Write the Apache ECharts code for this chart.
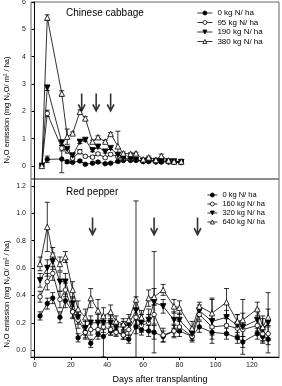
<!DOCTYPE html>
<html>
<head>
<meta charset="utf-8">
<script src="https://cdn.jsdelivr.net/npm/echarts@6/dist/echarts.min.js"></script>
<style>
  html, body { margin: 0; padding: 0; background: #fff; }
  #main { width: 282px; height: 386px; }
</style>
</head>
<body>
<div id="main"></div>
<script>
// Chinese cabbage (top panel)
const cabbageDays = [4, 7, 15, 18, 21, 25, 28, 32, 35, 39, 42, 46, 49, 53, 56, 60, 63, 67, 70, 74, 77, 81];
const cab0    = [0, 0.24, 0.25, 0.15, 0.13, 0.18, 0.06, 0.10, 0.14, 0.08, 0.10, 0.16, 0.20, 0.20, 0.20, 0.16, 0.16, 0.14, 0.14, 0.14, 0.13, 0.12];
const cab0Err = [0, 0.12, 0.50, 0.06, 0.04, 0.04, 0.03, 0.03, 0.04, 0.03, 0.03, 0.04, 0.03, 0.03, 0.03, 0.03, 0.03, 0.03, 0.03, 0.03, 0.03, 0.03];
const cab95    = [0, 1.92, 0.65, 0.55, 0.28, 0.52, 0.35, 0.32, 0.44, 0.30, 0.42, 0.34, 0.26, 0.24, 0.24, 0.16, 0.24, 0.16, 0.26, 0.16, 0.14, 0.14];
const cab95Err = [0, 0.12, 0.10, 0.08, 0.05, 0.08, 0.05, 0.05, 0.05, 0.04, 0.05, 0.05, 0.04, 0.03, 0.03, 0.03, 0.03, 0.03, 0.04, 0.03, 0.03, 0.03];
const cab190    = [0, 2.86, 0.85, 0.62, 0.38, 0.88, 0.95, 0.57, 0.70, 0.52, 0.65, 0.40, 0.28, 0.24, 0.22, 0.18, 0.20, 0.18, 0.16, 0.16, 0.16, 0.14];
const cab190Err = [0, 0.10, 0.10, 0.05, 0.05, 0.06, 0.05, 0.05, 0.05, 0.05, 0.05, 0.05, 0.04, 0.03, 0.03, 0.03, 0.03, 0.03, 0.03, 0.03, 0.03, 0.03];
const cab380    = [0, 5.43, 2.65, 1.07, 1.19, 1.98, 1.74, 0.89, 1.05, 0.89, 1.17, 0.72, 0.46, 0.44, 0.46, 0.24, 0.31, 0.22, 0.37, 0.20, 0.16, 0.16];
const cab380Err = [0, 0.10, 0.10, 0.28, 0.05, 0.07, 0.06, 0.05, 0.05, 0.05, 0.05, 0.55, 0.05, 0.04, 0.04, 0.04, 0.05, 0.04, 0.06, 0.03, 0.03, 0.03];
const cabArrowDays = [26, 34, 42];

// Red pepper (bottom panel)
const pepperDays = [3, 7, 10, 14, 17, 21, 24, 28, 31, 35, 38, 42, 45, 49, 52, 56, 59, 63, 66, 71, 77, 80, 87, 91, 98, 106, 112, 115, 123, 126, 129];
const pep0    = [0.25, 0.34, 0.38, 0.24, 0.36, 0.28, 0.09, 0.13, 0.05, 0.12, 0.10, 0.14, 0.14, 0.11, 0.08, 0.17, 0.15, 0.14, 0.13, 0.10, 0.14, 0.14, 0.10, 0.17, 0.13, 0.12, 0.09, 0.06, 0.12, 0.10, 0.08];
const pep0Err = [0.03, 0.04, 0.04, 0.04, 0.05, 0.04, 0.03, 0.04, 0.03, 0.04, 0.15, 0.03, 0.03, 0.03, 0.03, 0.05, 0.04, 0.04, 0.05, 0.04, 0.04, 0.04, 0.03, 0.04, 0.05, 0.04, 0.04, 0.04, 0.04, 0.04, 0.04];
const pep160    = [0.39, 0.50, 0.56, 0.37, 0.44, 0.28, 0.22, 0.13, 0.15, 0.15, 0.17, 0.15, 0.13, 0.11, 0.15, 0.24, 0.18, 0.20, 0.26, 0.11, 0.14, 0.17, 0.10, 0.26, 0.17, 0.18, 0.16, 0.15, 0.18, 0.12, 0.12];
const pep160Err = [0.04, 0.06, 0.05, 0.06, 0.05, 0.05, 0.06, 0.05, 0.04, 0.05, 0.04, 0.04, 0.03, 0.03, 0.04, 0.06, 0.05, 0.06, 0.07, 0.05, 0.05, 0.04, 0.04, 0.04, 0.06, 0.05, 0.05, 0.05, 0.05, 0.05, 0.05];
const pep320    = [0.51, 0.60, 0.65, 0.50, 0.50, 0.34, 0.24, 0.16, 0.20, 0.20, 0.20, 0.20, 0.17, 0.17, 0.19, 0.29, 0.20, 0.22, 0.35, 0.32, 0.22, 0.22, 0.12, 0.29, 0.21, 0.24, 0.18, 0.17, 0.22, 0.15, 0.20];
const pep320Err = [0.05, 0.06, 0.06, 0.07, 0.06, 0.05, 0.05, 0.05, 0.05, 0.06, 0.05, 0.05, 0.04, 0.04, 0.04, 0.10, 0.06, 0.08, 0.37, 0.05, 0.06, 0.05, 0.04, 0.04, 0.16, 0.05, 0.08, 0.20, 0.08, 0.10, 0.22];
const pep640    = [0.63, 0.90, 0.70, 0.63, 0.68, 0.44, 0.30, 0.24, 0.38, 0.29, 0.25, 0.28, 0.21, 0.19, 0.22, 0.37, 0.24, 0.38, 0.39, 0.44, 0.32, 0.31, 0.16, 0.32, 0.27, 0.35, 0.21, 0.22, 0.30, 0.17, 0.24];
const pep640Err = [0.05, 0.18, 0.05, 0.05, 0.04, 0.06, 0.06, 0.06, 0.07, 0.08, 0.06, 0.05, 0.04, 0.04, 0.04, 0.72, 0.05, 0.06, 0.06, 0.04, 0.05, 0.05, 0.05, 0.03, 0.11, 0.10, 0.05, 0.05, 0.05, 0.06, 0.06];
const pepArrowDays = [32, 66, 90];

const cabNames = ['0 kg N/ ha', '95 kg N/ ha', '190 kg N/ ha', '380 kg N/ ha'];
const pepNames = ['0 kg N/ ha', '160 kg N/ ha', '320 kg N/ ha', '640 kg N/ ha'];
const dayTicks = [0, 20, 40, 60, 80, 100, 120];
const cabTicks = [0, 1, 2, 3, 4, 5, 6];
const pepTicks = [0, 0.2, 0.4, 0.6, 0.8, 1.0, 1.2];

const FONT = 'Liberation Sans, Arial, sans-serif';
const ARROW = 'path://M4,0 L6,0 L6,17 L4,17 Z M0,12 L1.6,10.6 L5,16.4 L8.4,10.6 L10,12 L5,20 Z';
const OPEN = [false, true, false, true];

var chart = echarts.init(document.getElementById('main'));

function markStyle(open) {
    return { color: open ? '#fff' : '#000', borderColor: '#000', borderWidth: 0.8 };
}

function lineSeries(name, idx, days, vals, symbol, rotate, size, open) {
    return {
        name: name,
        type: 'line',
        xAxisIndex: idx,
        yAxisIndex: idx,
        data: days.map((d, i) => [d, vals[i]]),
        symbol: symbol,
        symbolRotate: rotate,
        symbolSize: size,
        showSymbol: true,
        lineStyle: { color: '#000', width: 0.8 },
        itemStyle: markStyle(open),
        z: 3,
        animation: false
    };
}

function errSeries(idx, days, vals, errs) {
    return {
        type: 'custom',
        xAxisIndex: idx,
        yAxisIndex: idx,
        clip: true,
        silent: true,
        z: 2,
        data: days.map((d, i) => [d, vals[i] - errs[i], vals[i] + errs[i]]),
        encode: { x: 0, y: [1, 2] },
        renderItem: function (params, api) {
            var x = api.value(0);
            if (api.value(2) - api.value(1) < 1e-6) return null;
            var lo = api.coord([x, api.value(1)]);
            var hi = api.coord([x, api.value(2)]);
            var c = 2.5;
            var st = { stroke: '#000', lineWidth: 0.8 };
            return {
                type: 'group',
                children: [
                    { type: 'line', shape: { x1: lo[0], y1: lo[1], x2: hi[0], y2: hi[1] }, style: st },
                    { type: 'line', shape: { x1: hi[0] - c, y1: hi[1], x2: hi[0] + c, y2: hi[1] }, style: st },
                    { type: 'line', shape: { x1: lo[0] - c, y1: lo[1], x2: lo[0] + c, y2: lo[1] }, style: st }
                ]
            };
        },
        animation: false
    };
}

function arrowSeries(idx, days, y) {
    return {
        type: 'scatter',
        xAxisIndex: idx,
        yAxisIndex: idx,
        data: days.map(d => [d, y]),
        symbol: ARROW,
        symbolSize: [8, 19],
        itemStyle: { color: '#000' },
        silent: true,
        z: 4,
        animation: false
    };
}

function legendData(names) {
    return names.map((n, i) => ({ name: n, itemStyle: markStyle(OPEN[i]) }));
}

const yAxisBase = {
    type: 'value',
    axisLine: { show: true, lineStyle: { color: '#000', width: 1 } },
    axisTick: { show: true, inside: false, length: 3, lineStyle: { color: '#000' } },
    axisLabel: { fontSize: 7, color: '#222', fontFamily: FONT, margin: 5 },
    splitLine: { show: false }
};

var option = {
    backgroundColor: '#fff',
    animation: false,
    title: [
        { text: 'Chinese cabbage', left: 66, top: 8, padding: 0,
          textStyle: { fontSize: 10, fontWeight: 'normal', color: '#000', fontFamily: FONT } },
        { text: 'Red pepper', left: 66, top: 187, padding: 0,
          textStyle: { fontSize: 10, fontWeight: 'normal', color: '#000', fontFamily: FONT } }
    ],
    legend: [
        { orient: 'vertical', left: 197, top: 9, padding: 0, itemWidth: 15, itemHeight: 5, itemGap: 1.5,
          lineStyle: { color: '#000', width: 0.8 },
          textStyle: { fontSize: 8, color: '#000', fontFamily: FONT },
          data: legendData(cabNames) },
        { orient: 'vertical', left: 207, top: 191, padding: 0, itemWidth: 10, itemHeight: 5, itemGap: 1,
          lineStyle: { color: '#000', width: 0.8 },
          textStyle: { fontSize: 7.5, color: '#000', fontFamily: FONT },
          data: legendData(pepNames) }
    ],
    grid: [
        { left: 31, right: 3, top: 2, height: 177, show: true, borderColor: '#666', borderWidth: 1, containLabel: false, outerBoundsMode: 'none' },
        { left: 31, right: 3, top: 179, height: 178, show: true, borderColor: '#666', borderWidth: 1, containLabel: false, outerBoundsMode: 'none' }
    ],
    xAxis: [
        { type: 'value', gridIndex: 0, min: -2, max: 135,
          axisLine: { show: false }, axisTick: { show: false }, axisLabel: { show: false }, splitLine: { show: false } },
        { type: 'value', gridIndex: 1, min: -2, max: 135,
          axisLine: { show: true, onZero: false, lineStyle: { color: '#000', width: 1 } },
          axisTick: { show: true, length: 3, customValues: dayTicks, lineStyle: { color: '#000' } },
          axisLabel: { fontSize: 7, color: '#222', fontFamily: FONT, margin: 5, customValues: dayTicks },
          splitLine: { show: false } }
    ],
    yAxis: [
        Object.assign({}, yAxisBase, { gridIndex: 0, min: -0.48, max: 6,
          axisTick: Object.assign({}, yAxisBase.axisTick, { customValues: cabTicks }),
          axisLabel: Object.assign({}, yAxisBase.axisLabel, { customValues: cabTicks }) }),
        Object.assign({}, yAxisBase, { gridIndex: 1, min: -0.05, max: 1.25,
          axisTick: Object.assign({}, yAxisBase.axisTick, { customValues: pepTicks }),
          axisLabel: Object.assign({}, yAxisBase.axisLabel, { customValues: pepTicks,
            formatter: v => v.toFixed(1) }) })
    ],
    graphic: [
        { type: 'text', x: 7, y: 110, rotation: Math.PI / 2,
          style: { text: 'N₂O emission (mg N₂O/ m² / ha)', fontSize: 7.5, fontFamily: FONT, fill: '#000',
                   align: 'center', verticalAlign: 'middle' } },
        { type: 'text', x: 7, y: 294, rotation: Math.PI / 2,
          style: { text: 'N₂O emission (mg N₂O/ m² / ha)', fontSize: 7.5, fontFamily: FONT, fill: '#000',
                   align: 'center', verticalAlign: 'middle' } },
        { type: 'text', x: 160, y: 380,
          style: { text: 'Days after transplanting', fontSize: 9, fontFamily: FONT, fill: '#000',
                   align: 'center', verticalAlign: 'middle' } }
    ],
    series: [
        errSeries(0, cabbageDays, cab0, cab0Err),
        errSeries(0, cabbageDays, cab95, cab95Err),
        errSeries(0, cabbageDays, cab190, cab190Err),
        errSeries(0, cabbageDays, cab380, cab380Err),
        lineSeries(cabNames[0], 0, cabbageDays, cab0, 'circle', 0, 4.5, false),
        lineSeries(cabNames[1], 0, cabbageDays, cab95, 'circle', 0, 4.5, true),
        lineSeries(cabNames[2], 0, cabbageDays, cab190, 'triangle', 180, 5.5, false),
        lineSeries(cabNames[3], 0, cabbageDays, cab380, 'triangle', 0, 5.5, true),
        arrowSeries(0, cabArrowDays, 2.3),

        errSeries(1, pepperDays, pep0, pep0Err),
        errSeries(1, pepperDays, pep160, pep160Err),
        errSeries(1, pepperDays, pep320, pep320Err),
        errSeries(1, pepperDays, pep640, pep640Err),
        lineSeries(pepNames[0], 1, pepperDays, pep0, 'circle', 0, 4.5, false),
        lineSeries(pepNames[1], 1, pepperDays, pep160, 'circle', 0, 4.5, true),
        lineSeries(pepNames[2], 1, pepperDays, pep320, 'triangle', 180, 5.5, false),
        lineSeries(pepNames[3], 1, pepperDays, pep640, 'triangle', 0, 5.5, true),
        arrowSeries(1, pepArrowDays, 0.9)
    ]
};

chart.setOption(option);
</script>
</body>
</html>
